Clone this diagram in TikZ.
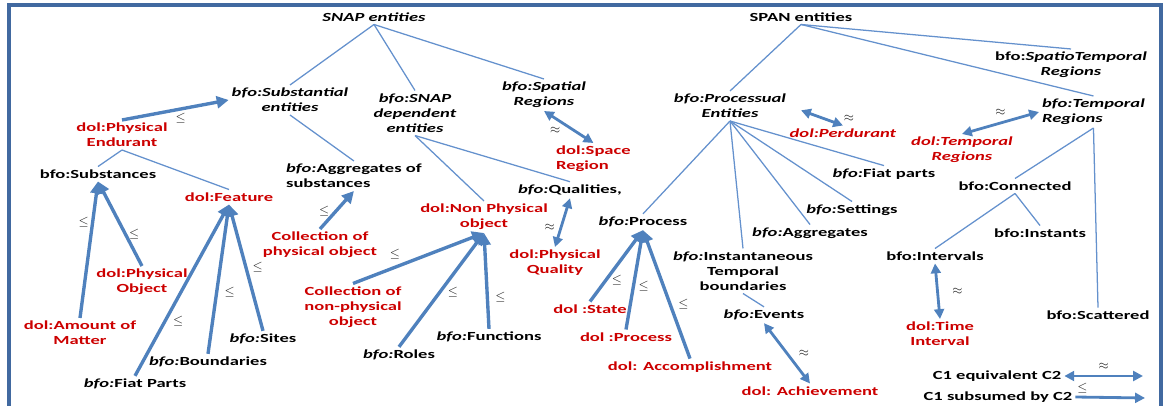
\documentclass[tikz,border=0pt]{standalone}
\usepackage{fontspec}
\setmainfont{Carlito}[FakeStretch=1.5]
\usepackage{tikz}
\usetikzlibrary{arrows.meta}
\definecolor{dolred}{RGB}{204,0,0}
\definecolor{linkblue}{RGB}{79,129,189}
\definecolor{treeblue}{RGB}{100,145,205}
\definecolor{frameblue}{RGB}{65,105,160}
\definecolor{relgray}{RGB}{40,40,40}
\newcommand{\bfoi}{\textit{bfo:}}

\begin{document}
\begin{tikzpicture}[x=0.025cm,y=-0.025cm,
  every node/.style={font=\fontsize{8.8}{10.7}\selectfont\bfseries},
  bfo/.style={align=center,inner sep=2pt},
  dol/.style={bfo,text=dolred},
  tree/.style={draw=treeblue,line width=0.9pt},
  isa/.style={draw=linkblue,line width=2.4pt,-{Triangle[length=8.5pt,width=8.5pt]}},
  eqv/.style={draw=linkblue,line width=2pt,{Triangle[length=7pt,width=7pt]}-{Triangle[length=7pt,width=7pt]}},
  rel/.style={font=\fontsize{9}{10}\selectfont,text=relgray,inner sep=1.5pt}
]
  \useasboundingbox (0,0) rectangle (1164,406);
  \draw[frameblue,line width=2.2pt] (9,406) -- (9,5) -- (1161,5) -- (1161,406);

  % SNAP side
  \node[bfo] (snap) at (374,17) {\textit{SNAP entities}};
  \node[bfo] (subst) at (290,100) {\textit{bfo:Substantial}\\\textit{entities}};
  \node[bfo] (snapdep) at (415,113) {\textit{bfo:SNAP}\\\textit{dependent}\\\textit{entities}};
  \node[bfo] (spatial) at (544,95) {\textit{bfo:Spatial}\\\textit{Regions}};
  \node[bfo,align=left,anchor=west] (aggsub) at (283,176) {\bfoi Aggregates of\\substances};
  \node[dol,align=left,anchor=west] (space) at (553,159) {dol:Space\\Region};
  \node[bfo] (qual) at (570,190) {\bfoi Qualities,};
  \node[dol] (pqual) at (555,263) {dol:Physical\\Quality};
  \node[dol] (npo) at (484,217) {dol:Non Physical\\object};
  \node[dol] (colnp) at (353,307) {Collection of\\non-physical\\object};
  \node[bfo] (roles) at (399,355) {\bfoi Roles};
  \node[bfo] (func) at (489,337) {\bfoi Functions};
  \node[dol] (colphys) at (320,245) {Collection of\\physical object};
  \node[dol] (pend) at (122,135) {dol:Physical\\Endurant};
  \node[bfo] (substances) at (98,174) {bfo:Substances};
  \node[dol] (feature) at (229,197) {dol:Feature};
  \node[dol] (pobj) at (142,282) {dol:Physical\\Object};
  \node[dol] (amount) at (80,333) {dol:Amount of\\Matter};
  \node[bfo] (fiatp) at (135,384) {\bfoi Fiat Parts};
  \node[bfo] (bound) at (208,362) {\bfoi Boundaries};
  \node[bfo] (sites) at (263,339) {\bfoi Sites};

  % SPAN side
  \node[bfo] (span) at (801,17) {SPAN entities};
  \node[bfo] (stemp) at (1071,65) {bfo:\textit{SpatioTemporal}\\\textit{Regions}};
  \node[bfo,align=left,anchor=west] (treg) at (1039,112) {\textit{bfo:Temporal}\\\textit{Regions}};
  \node[bfo] (proc) at (730,106) {\textit{bfo:Processual}\\\textit{Entities}};
  \node[dol] (perd) at (843,133) {\textit{dol:Perdurant}};
  \node[dol] (dtreg) at (962,150) {\textit{dol:Temporal}\\\textit{Regions}};
  \node[bfo] (fiat) at (884,174) {\bfoi Fiat parts};
  \node[bfo] (sett) at (852,210) {\bfoi Settings};
  \node[bfo] (aggr) at (810,233) {\bfoi Aggregates};
  \node[bfo] (process) at (643,222) {\bfoi Process};
  \node[bfo] (inst) at (743,271) {\bfoi Instantaneous\\Temporal\\boundaries};
  \node[bfo] (events) at (764,315) {\bfoi Events};
  \node[dol] (achieve) at (810,391) {dol: Achievement};
  \node[dol] (state) at (590,309) {dol :State};
  \node[dol] (dproc) at (626,337) {dol :Process};
  \node[dol] (accomp) at (690,367) {dol: Accomplishment};
  \node[bfo] (conn) at (1015,186) {bfo:Connected};
  \node[bfo] (instants) at (1040,233) {bfo:Instants};
  \node[bfo] (intv) at (935,256) {bfo:Intervals};
  \node[dol] (tint) at (940,334) {dol:Time\\Interval};
  \node[bfo] (scat) at (1098,315) {bfo:Scattered};

  % legend
  \node[bfo] (leq) at (997,376) {C1 equivalent C2};
  \node[bfo] (lsub) at (998,397) {C1 subsumed by C2};
  \coordinate (leqend) at (1143,376);
  \coordinate (lsubend) at (1145,398);

  % tree lines
  \draw[tree] (snap.south) -- (subst.north);
  \draw[tree] (snap.south) -- (snapdep.north);
  \draw[tree] (snap.south) -- (spatial.north);
  \draw[tree] (subst.south) -- (aggsub.north);
  \draw[tree] (snapdep.south) -- (npo.north);
  \draw[tree] (snapdep.south) -- (qual.north);
  \draw[tree] (pend.south) -- (substances.north);
  \draw[tree] (pend.south) -- (feature.north);
  \draw[tree] (span.south) -- (proc.north);
  \draw[tree] (span.south) -- (stemp.north);
  \draw[tree] (span.south) -- (treg.north);
  \draw[tree] (proc.south) -- (process.north);
  \draw[tree] (proc.south) -- (inst.north);
  \draw[tree] (proc.south) -- (aggr.north);
  \draw[tree] (proc.south) -- (sett.north);
  \draw[tree] (proc.south) -- (fiat.north);
  \draw[tree] (inst.south) -- (events.north);
  \draw[tree] (treg.south) -- (conn.north);
  \draw[tree] (treg.south) -- (scat.north);
  \draw[tree] (conn.south) -- (intv.north);
  \draw[tree] (conn.south) -- (instants.north);

  % subsumption
  \draw[isa] (pend.north) -- (subst.west) node[rel,pos=0.55,below]{$\leq$};
  \draw[isa] (amount.north) -- (substances.south) node[rel,pos=0.7,left]{$\leq$};
  \draw[isa] (pobj.north) -- (substances.south) node[rel,pos=0.38,right]{$\leq$};
  \draw[isa] (fiatp.north) -- (feature.south) node[rel,pos=0.32,right=3pt]{$\leq$};
  \draw[isa] (bound.north) -- (feature.south) node[rel,pos=0.41,right=3pt]{$\leq$};
  \draw[isa] (sites.north) -- (feature.south) node[rel,pos=0.5,right=2pt]{$\leq$};
  \draw[isa] (colphys.north) -- (aggsub.south) node[rel,pos=0.47,left=2pt]{$\leq$};
  \draw[isa] (colnp.north) -- (npo.south) node[rel,pos=0.32,above=3pt]{$\leq$};
  \draw[isa] (roles.north) -- (npo.south) node[rel,pos=0.48,right=3pt]{$\leq$};
  \draw[isa] (func.north) -- (npo.south) node[rel,pos=0.33,right=3pt]{$\leq$};
  \draw[isa] (state.north) -- (process.south) node[rel,pos=0.29,right=2pt]{$\leq$};
  \draw[isa] (dproc.north) -- (process.south) node[rel,pos=0.43,right=1pt]{$\leq$};
  \draw[isa] (accomp.north) -- (process.south) node[rel,pos=0.42,right=3pt]{$\leq$};

  % equivalence
  \draw[eqv] (spatial.south) -- (space.north) node[rel,pos=0.4,below left]{$\approx$};
  \draw[eqv] (qual.south) -- (pqual.north) node[rel,pos=0.6,left=2pt]{$\approx$};
  \draw[eqv,shorten <=9pt] (proc.east) -- (perd.north) node[rel,pos=0.95,above right]{$\approx$};
  \draw[eqv] (treg.west) -- (dtreg.north) node[rel,midway,above=3pt]{$\approx$};
  \draw[eqv] (events.south) -- (achieve.north) node[rel,midway,right=6pt]{$\approx$};
  \draw[eqv] (intv.south) -- (tint.north) node[rel,midway,right=8pt]{$\approx$};

  % legend arrows
  \draw[eqv] (leq.east) -- (leqend) node[rel,midway,above=2pt]{$\approx$};
  \draw[draw=linkblue,line width=2pt,-{Triangle[length=7pt,width=7pt]}] (lsub.east) -- (lsubend) node[rel,pos=0.1,above]{$\leq$};
\end{tikzpicture}
\end{document}
